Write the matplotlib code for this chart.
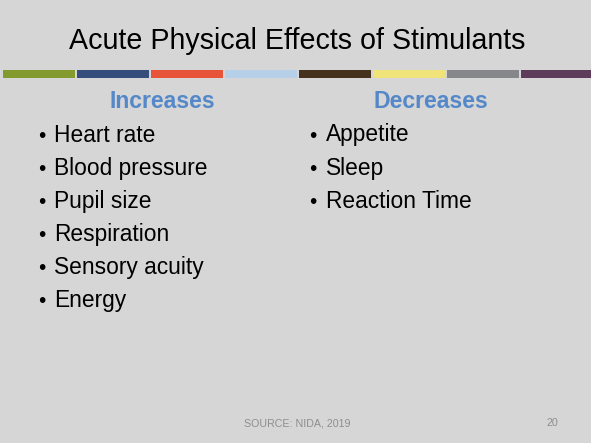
import matplotlib
matplotlib.use("Agg")
import matplotlib.pyplot as plt

W, H = 591, 443
title = "Acute Physical Effects of Stimulants"
left_header = "Increases"
right_header = "Decreases"
left_items = ["Heart rate", "Blood pressure", "Pupil size", "Respiration",
              "Sensory acuity", "Energy"]
right_items = ["Appetite", "Sleep", "Reaction Time"]
source = "SOURCE: NIDA, 2019"
page = "20"
band_colors = ["#839a2e", "#344d7b", "#e8543a", "#b6d0ea",
               "#46311f", "#f0e37a", "#85878a", "#5e3b5b"]

BG = "#d6d6d6"
FONT = ["Liberation Sans", "DejaVu Sans"]

fig = plt.figure(figsize=(W / 100, H / 100), dpi=100, facecolor=BG)
ax = fig.add_axes([0, 0, 1, 1])
ax.set_facecolor(BG)
ax.set_xlim(0, W)
ax.set_ylim(H, 0)
ax.axis("off")

# colour band
n = len(band_colors)
seg_w = 72.0
gap = 2.0
x0 = 3.0
lefts = [x0 + i * (seg_w + gap) for i in range(n)]
widths = [seg_w] * (n - 1) + [W - lefts[-1]]
ax.bar(lefts, [7.5] * n, width=widths, bottom=70, align="edge",
       color=band_colors, linewidth=0)

# title
ax.text(297, 48.7, title, ha="center", va="baseline", fontsize=20.6,
        family=FONT, color="#000000")

# headers
hdr_color = "#5588c8"
ax.text(162, 107.7, left_header, ha="center", va="baseline", fontsize=16.6,
        fontweight="bold", family=FONT, color=hdr_color)
ax.text(431, 107.7, right_header, ha="center", va="baseline", fontsize=16.6,
        fontweight="bold", family=FONT, color=hdr_color)

base0 = 141.5
step = 33.1
for i, item in enumerate(left_items):
    y = base0 + i * step
    ax.text(42, y, "\u2022", ha="center", va="baseline", fontsize=15,
            family=FONT, color="#000000")
    ax.text(54.5, y, item, ha="left", va="baseline", fontsize=16.4,
            family=FONT, color="#000000")
for i, item in enumerate(right_items):
    y = base0 + i * step
    ax.text(313, y, "\u2022", ha="center", va="baseline", fontsize=15,
            family=FONT, color="#000000")
    ax.text(325.5, y, item, ha="left", va="baseline", fontsize=16.4,
            family=FONT, color="#000000")

ax.text(297.5, 426, source, ha="center", va="baseline", fontsize=7.7,
        family=FONT, color="#8e8e8e")
ax.text(552, 426, page, ha="center", va="baseline", fontsize=7.7,
        family=FONT, color="#8e8e8e")

fig.savefig("out.png", dpi=100, facecolor=BG)
